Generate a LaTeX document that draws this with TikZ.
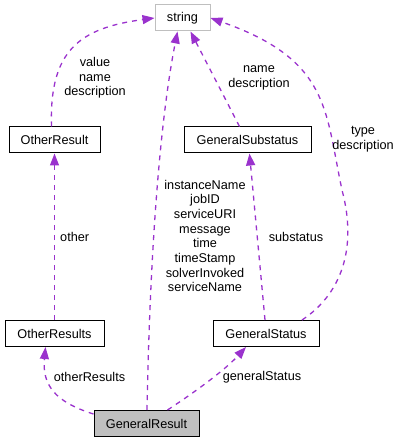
\documentclass[tikz,border=0pt]{standalone}
\usepackage{fontspec}
\setmainfont{Liberation Sans}
\usetikzlibrary{arrows.meta,positioning}
\definecolor{edgepurple}{HTML}{9A32CD}
\definecolor{boxgray}{HTML}{BFBFBF}

\begin{document}
\begin{tikzpicture}[x=1pt,y=-1pt,
	cls/.style={draw=black,line width=1pt,minimum height=26pt,inner sep=0pt,font=\fontsize{12.7}{14.7}\selectfont},
	use/.style={draw=edgepurple,line width=1.3pt,dash pattern=on 5pt off 5pt,-{Triangle[length=12pt,width=9pt,fill=edgepurple]}},
	lbl/.style={align=center,inner sep=0pt,font=\fontsize{12.7}{14.7}\selectfont}]
	\useasboundingbox (0,0) rectangle (400,443);

	\node[cls,draw=boxgray,minimum width=55pt] (string) at (182.5,18) {string};
	\node[cls,minimum width=91pt] (otherresult) at (54.5,140) {OtherResult};
	\node[cls,minimum width=127pt] (generalsubstatus) at (247.5,140) {GeneralSubstatus};
	\node[cls,minimum width=99pt] (otherresults) at (54.5,333.5) {OtherResults};
	\node[cls,minimum width=106pt] (generalstatus) at (266,333.5) {GeneralStatus};
	\node[cls,fill=boxgray,minimum width=105pt] (generalresult) at (146.5,423.5) {GeneralResult};

	\draw[use] ([xshift=-3pt]otherresult.north) .. controls (49,50) and (80,28) .. (string.west);
	\draw[use] ([xshift=0.5pt]generalresult.north) .. controls (150,250) and (160,120) .. ([xshift=-5pt]string.south);
	\draw[use] ([xshift=-8pt]generalsubstatus.north) -- ([xshift=8pt]string.south);
	\draw[use] ([xshift=36pt]generalstatus.north) .. controls (340,295) and (358,250) .. (342,190) .. controls (325,110) and (330,60) .. (string.east);
	\draw[use] (otherresults.north) -- (otherresult.south);
	\draw[use] ([xshift=-1pt]generalstatus.north) -- ([xshift=2pt]generalsubstatus.south);
	\draw[use] ([yshift=-4pt]generalresult.north west) .. controls (55,402) and (42,385) .. ([xshift=-9pt]otherresults.south);
	\draw[use] ([xshift=21pt]generalresult.north) .. controls (195,392) and (225,370) .. ([xshift=-20pt]generalstatus.south);

	\node[lbl] (lblvalue) at (95,78) {value\\name\\description};
	\node[lbl] (lblsubname) at (259,78) {name\\description};
	\node[lbl] (lbltype) at (363,139) {type\\description};
	\node[lbl] (lblmembers) at (205,236) {instanceName\\jobID\\serviceURI\\message\\time\\timeStamp\\solverInvoked\\serviceName};
	\node[lbl,anchor=west] (lblother) at (60,237) {other};
	\node[lbl] (lblsubstatus) at (296,237) {substatus};
	\node[lbl] (lblotherresults) at (89.5,377) {otherResults};
	\node[lbl] (lblgeneralstatus) at (262,377) {generalStatus};
\end{tikzpicture}
\end{document}
